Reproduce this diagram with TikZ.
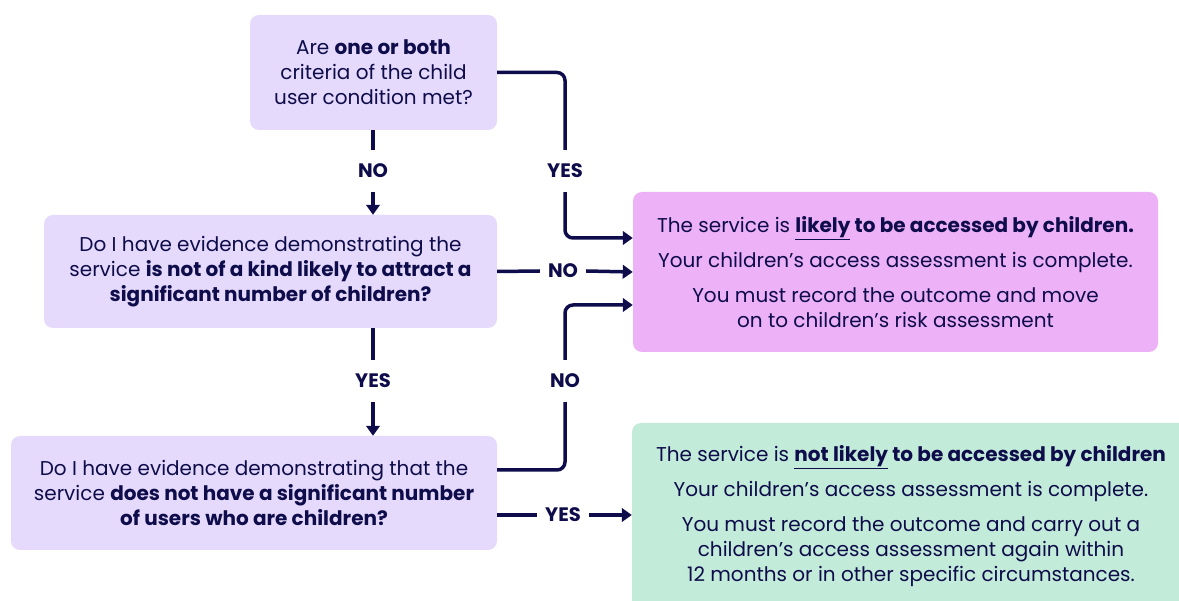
\documentclass[tikz,border=0pt]{standalone}
\usepackage{fontspec}
\setmainfont{Poppins}
\usepackage{xcolor}
\usetikzlibrary{arrows.meta}
\definecolor{ink}{HTML}{0E0C4A}
\definecolor{lilac}{HTML}{E5DAFC}
\definecolor{orchid}{HTML}{ECB1F7}
\definecolor{mint}{HTML}{C3EBD9}
\tikzset{
  qbox/.style={fill=lilac, rounded corners=9pt, align=center, text=ink, inner sep=0pt},
  rbox/.style={rounded corners=9pt, align=center, text=ink, inner sep=0pt},
  lbl/.style={text=ink, font=\fontsize{19.5}{25}\selectfont\bfseries, inner xsep=8pt, inner ysep=14pt},
  line/.style={draw=ink, line width=3.5pt, rounded corners=8pt},
  arr/.style={line, -{Triangle[length=10pt,width=13.5pt]}}
}

\begin{document}
\begin{tikzpicture}[x=1pt,y=-1pt,font=\fontsize{20}{25}\selectfont]
  \useasboundingbox (0,0) rectangle (1179,601);
  \clip (0,0) rectangle (1179,601);
  \node[qbox, minimum width=247pt, minimum height=115pt] (q1) at (373.5,72.5)
    {Are \textbf{one or both}\\ criteria of the child\\ user condition met?};
  \node[qbox, minimum width=453pt, minimum height=113pt] (q2) at (270.5,271.5)
    {Do I have evidence demonstrating the\\ service \textbf{is not of a kind likely to attract a}\\ \textbf{significant number of children?}};
  \node[qbox, minimum width=486pt, minimum height=114pt] (q3) at (254,493)
    {Do I have evidence demonstrating that the\\ service \textbf{does not have a significant number}\\ \textbf{of users who are children?}};
  \node[rbox, fill=orchid, minimum width=525pt, minimum height=160pt] (likely) at (895.5,272)
    {The service is \textbf{\underline{likely} to be accessed by children.}\\[10pt]
     Your children’s access assessment is complete.\\[10pt]
     You must record the outcome and move\\ on to children’s risk assessment};
  \node[rbox, fill=mint, minimum width=567pt, minimum height=198pt] (unlikely) at (915.5,522)
    {};
  \node[text=ink, align=center] (ulabel) at (911,516)
    {The service is \textbf{\underline{not likely} to be accessed by children}\\[10pt]
     Your children’s access assessment is complete.\\[10pt]
     You must record the outcome and carry out a\\ children’s access assessment again within\\ 12 months or in other specific circumstances.};
  \node[lbl] (no1) at (373,171) {NO};
  \node[lbl] (yes1) at (565,171) {YES};
  \node[lbl] (no2) at (563,271) {NO};
  \node[lbl] (yes2) at (373,381) {YES};
  \node[lbl] (no3) at (565,381) {NO};
  \node[lbl] (yes3) at (563,515) {YES};
  \draw[line] (no1 |- q1.south) to (no1.north);
  \draw[arr] (no1.south) to (no1 |- q2.north);
  \draw[line] (q1.east) -| (yes1.north);
  \draw[arr] (yes1.south) |- ([yshift=34pt]likely.west);
  \draw[line] (q2.east) to (no2.west);
  \draw[arr] (no2.east) to (likely.west);
  \draw[line] (yes2 |- q2.south) to (yes2.north);
  \draw[arr] (yes2.south) to (yes2 |- q3.north);
  \draw[line] ([yshift=23pt]q3.east) -| (no3.south);
  \draw[arr] (no3.north) |- ([yshift=-33pt]likely.west);
  \draw[line] ([yshift=-22pt]q3.east) to (yes3.west);
  \draw[arr] (yes3.east) to (yes3 -| unlikely.west);
\end{tikzpicture}
\end{document}
